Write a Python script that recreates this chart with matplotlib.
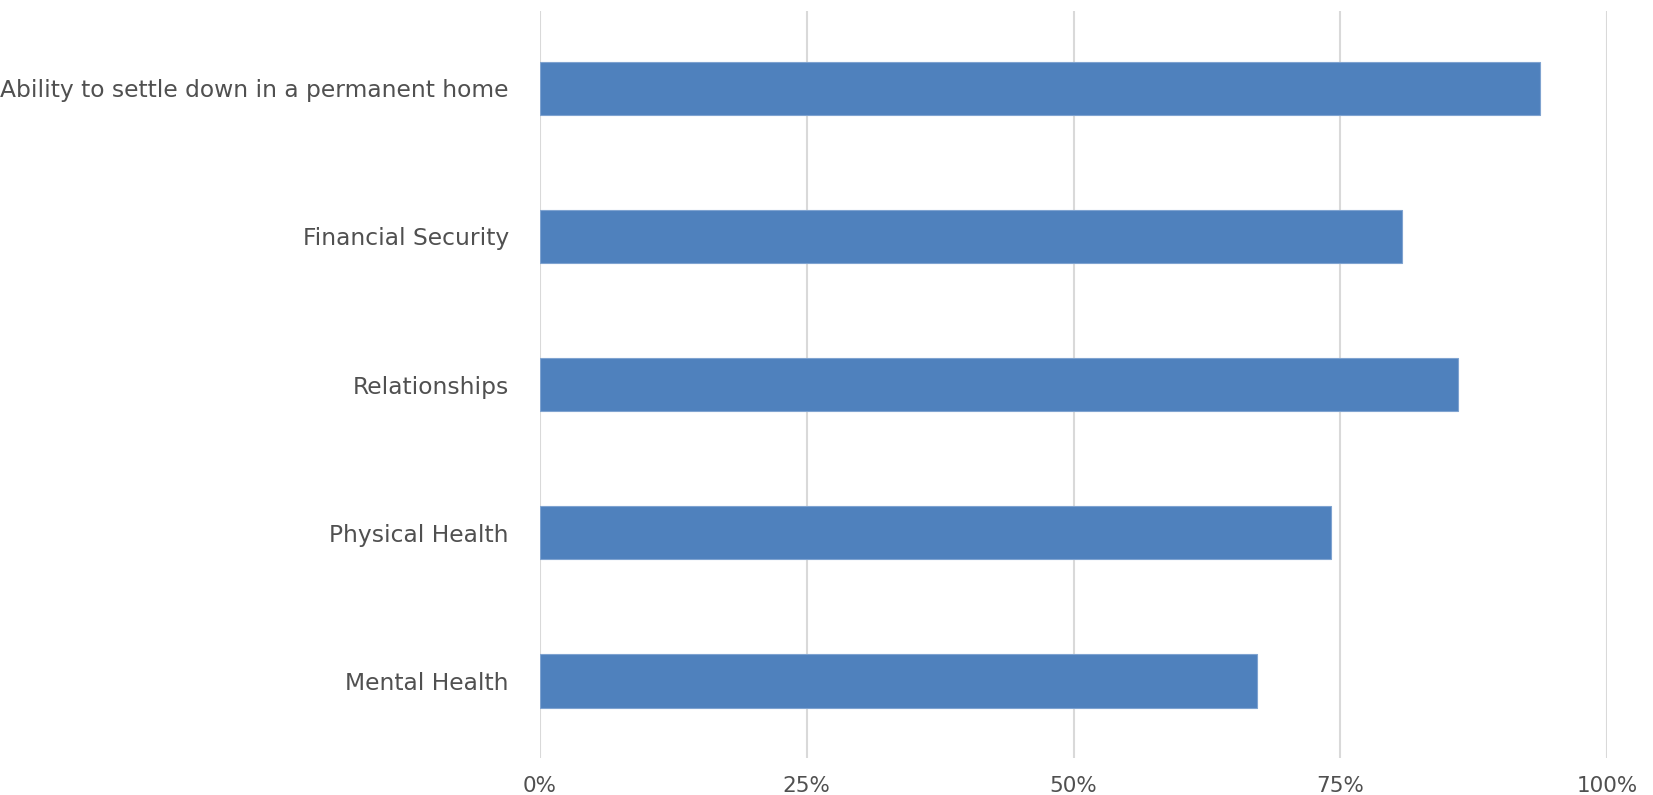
import matplotlib.pyplot as plt
from matplotlib.ticker import PercentFormatter

# Données (en %)
categories = ["Ability to settle down in a permanent home", "Financial Security",
              "Relationships", "Physical Health", "Mental Health"]
values = [93.7, 80.8, 86.0, 74.1, 67.2]
xticks = [0, 25, 50, 75, 100]

bar_color = "#4F81BD"
text_color = "#505050"
grid_color = "#D9D9D9"

fig = plt.figure(figsize=(16.53, 7.95), dpi=100)
ax = fig.add_axes([0.3267, 0.0465, 0.9722 - 0.3267, 0.986 - 0.0465])

ypos = list(range(len(categories)))
ax.barh(ypos, values, height=0.36, color=bar_color, edgecolor="#7FA3D0", linewidth=0.8, zorder=3)

ax.set_xlim(0, 100)
ax.set_ylim(len(categories) - 0.48, -0.52)
ax.set_yticks(ypos)
ax.set_yticklabels(categories, fontsize=16.8, color=text_color)
ax.set_xticks(xticks)
ax.xaxis.set_major_formatter(PercentFormatter(decimals=0))
for lbl in ax.get_xticklabels():
    lbl.set_fontsize(15.5)
    lbl.set_color(text_color)
    lbl.set_family(["Liberation Sans Narrow", "DejaVu Sans"])

ax.tick_params(axis="both", length=0)
ax.tick_params(axis="y", pad=22.5)
ax.tick_params(axis="x", pad=13)
ax.grid(axis="x", color=grid_color, linewidth=1.5, zorder=0)
for s in ax.spines.values():
    s.set_visible(False)

fig.savefig("out.png", dpi=100)
